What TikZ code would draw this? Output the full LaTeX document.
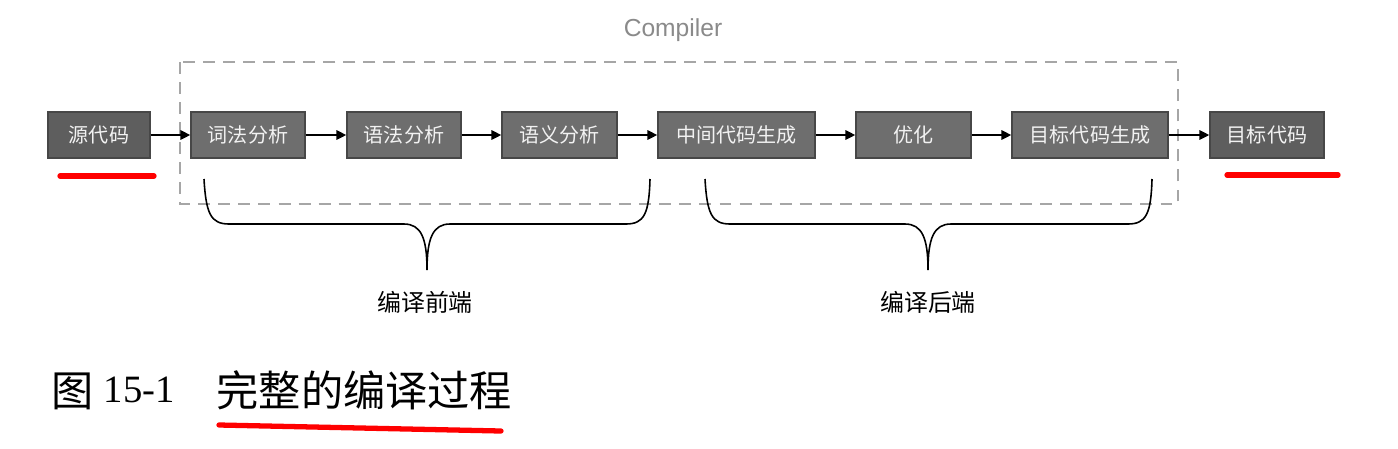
\documentclass[tikz,border=0pt]{standalone}
\usepackage{fontspec}
\setmainfont{Liberation Serif}
\newfontfamily\cjk{Noto Sans CJK SC}
\newfontfamily\lsans{Liberation Sans}
\usetikzlibrary{arrows.meta}
\definecolor{boxfill}{HTML}{6E6E6E}
\definecolor{iofill}{HTML}{5E5E5E}
\definecolor{boxborder}{HTML}{474747}
\definecolor{boxtext}{HTML}{F2F2F2}
\definecolor{dashgray}{HTML}{A6A6A6}
\definecolor{labelgray}{HTML}{8A8A8A}
\definecolor{markred}{HTML}{FF0000}
\tikzset{
  stagebox/.style={draw=boxborder, line width=0.4pt, fill=boxfill, text=boxtext,
    minimum height=0.46cm, inner sep=0pt,
    font=\cjk\fontsize{5.7pt}{6.5pt}\selectfont},
  iobox/.style={stagebox, fill=iofill},
  flow/.style={-{Triangle[length=2.8pt,width=2.7pt]}, line width=0.45pt, black},
  compilerframe/.style={draw=dashgray, line width=0.5pt, dash pattern=on 3.4pt off 2.3pt},
  bracepath/.style={draw=black, line width=0.45pt},
  bracelabel/.style={inner sep=0pt, font=\cjk\fontsize{6.8pt}{8pt}\selectfont},
  redmark/.style={draw=markred, line width=1.5pt, line cap=round},
}
\begin{document}
\begin{tikzpicture}[x=0.01cm,y=-0.01cm]
\useasboundingbox (0,0) rectangle (1398,448);

% compiler frame
\draw[compilerframe] (180,62) rectangle (1178,204);
\node[inner sep=0pt, text=labelgray, font=\lsans\fontsize{7pt}{8pt}\selectfont] (complabel) at (673,30) {Compiler};

% stages
\node[iobox, minimum width=1.02cm] (src) at (99,135) {源代码};
\node[stagebox, minimum width=1.14cm] (lex) at (248,135) {词法分析};
\node[stagebox, minimum width=1.14cm] (syn) at (404,135) {语法分析};
\node[stagebox, minimum width=1.15cm] (sem) at (559.5,135) {语义分析};
\node[stagebox, minimum width=1.57cm] (ir) at (736.5,135) {中间代码生成};
\node[stagebox, minimum width=1.15cm] (opt) at (913.5,135) {优化};
\node[stagebox, minimum width=1.56cm] (gen) at (1090,135) {目标代码生成};
\node[iobox, minimum width=1.14cm] (dst) at (1267,135) {目标代码};

\draw[flow] (src) -- (lex);
\draw[flow] (lex) -- (syn);
\draw[flow] (syn) -- (sem);
\draw[flow] (sem) -- (ir);
\draw[flow] (ir) -- (opt);
\draw[flow] (opt) -- (gen);
\draw[flow] (gen) -- (dst);

% braces
\draw[bracepath] (204,179) .. controls (206,214) and (211,224) .. (229,224)
  -- (404,224) .. controls (421,224) and (427,238) .. (427,270)
  .. controls (427,238) and (433,224) .. (450,224)
  -- (626,224) .. controls (644,224) and (649,214) .. (650,179);
\draw[bracepath] (705,179) .. controls (707,214) and (712,224) .. (730,224)
  -- (905,224) .. controls (922,224) and (928,238) .. (928,270)
  .. controls (928,238) and (934,224) .. (951,224)
  -- (1128,224) .. controls (1146,224) and (1151,214) .. (1152,179);
\node[bracelabel] (front) at (425,302) {编译前端};
\node[bracelabel] (back) at (928,302) {编译后端};

% red marks
\draw[redmark] (60,176) -- (154,176);
\draw[redmark] (1227,175) -- (1338,175);
\draw[redmark] (219,425) -- (501,431);

% caption
\node[anchor=base west, inner sep=0pt, font=\cjk\fontsize{12pt}{14pt}\selectfont] (fig) at (51,406) {图};
\node[anchor=base west, inner sep=0pt, font=\fontsize{11pt}{13pt}\selectfont] (fignum) at (103,402) {15-1};
\node[anchor=base west, inner sep=0pt, font=\cjk\fontsize{12pt}{14pt}\selectfont] (title) at (216,406) {完整的编译过程};
\end{tikzpicture}
\end{document}
